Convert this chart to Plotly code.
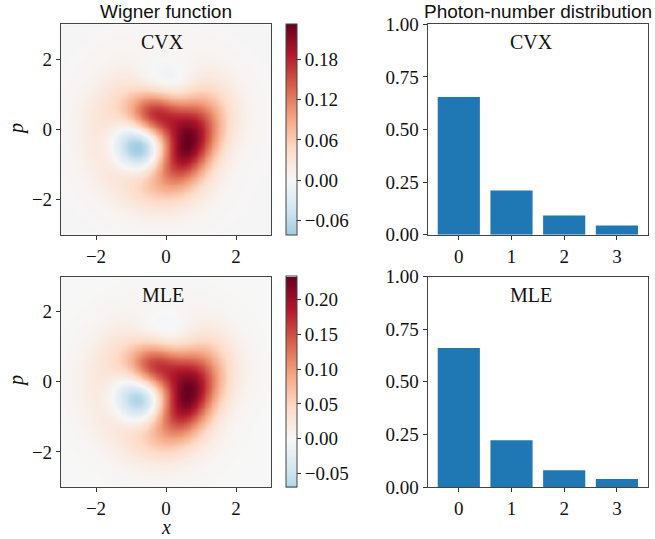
import math
import numpy as np
import plotly.graph_objects as go

# Photon-number populations |n> (n = 0..3) of the two reconstructions
photon_n = [0, 1, 2, 3]
probs_cvx = [0.655, 0.211, 0.092, 0.044]
probs_mle = [0.660, 0.222, 0.080, 0.038]
# Relative phases of the Fock amplitudes (degrees) and coherence factor
phases_cvx = [0, 0, 270, 90]
phases_mle = [0, 0, 270, 90]
coherence_cvx = 0.70
coherence_mle = 0.68

bar_ticks = [0, 0.25, 0.5, 0.75, 1.0]
bar_ticktext = ["0.00", "0.25", "0.50", "0.75", "1.00"]
cb_ticks_cvx = [-0.06, 0.0, 0.06, 0.12, 0.18]
cb_ticks_mle = [-0.05, 0.0, 0.05, 0.10, 0.15, 0.20]

# matplotlib RdBu_r anchor colours
RDBU_R = ["#053061", "#2166ac", "#4393c3", "#92c5de", "#d1e5f0", "#f7f7f7",
          "#fddbc7", "#f4a582", "#d6604d", "#b2182b", "#67001f"]

W_FIG, H_FIG = 655, 539
SERIF = "Liberation Serif"
SANS = "Liberation Sans"


def genlag(n, k, x):
    return sum((-1) ** i * math.comb(n + k, n - i) * x ** i / math.factorial(i) for i in range(n + 1))


def density_matrix(probs, phases, eta):
    amp = np.sqrt(np.asarray(probs) / np.sum(probs))
    c = amp * np.exp(1j * np.deg2rad(np.asarray(phases, float)))
    rho = np.outer(c, np.conj(c))
    return eta * rho + (1 - eta) * np.diag(np.diag(rho))


def wigner(rho, xv, pv):
    X, P = np.meshgrid(xv, pv)
    A = (X + 1j * P) / np.sqrt(2)
    B = 4 * np.abs(A) ** 2
    W = np.zeros_like(X)
    M = rho.shape[0]
    for m in range(M):
        W += np.real(rho[m, m] * (-1) ** m * genlag(m, 0, B))
        for n in range(m + 1, M):
            W += 2 * np.real(rho[m, n] * (-1) ** m * (2 * A) ** (n - m)
                             * np.sqrt(math.factorial(m) / math.factorial(n)) * genlag(m, n - m, B))
    return W * np.exp(-B / 2) / np.pi


def hex2rgb(h):
    return np.array([int(h[i:i + 2], 16) for i in (1, 3, 5)], float)


def rdbu_r(t):
    pos = np.linspace(0, 1, len(RDBU_R))
    cols = np.array([hex2rgb(h) for h in RDBU_R])
    return [np.interp(t, pos, cols[:, k]) for k in range(3)]


def truncated_scale(zmin, zmax, n=40):
    vm = max(abs(zmin), abs(zmax))
    scale = []
    for u in np.linspace(0, 1, n):
        v = zmin + u * (zmax - zmin)
        r, g, b = rdbu_r((v + vm) / (2 * vm))
        scale.append([float(u), f"rgb({r:.0f},{g:.0f},{b:.0f})"])
    return scale


def px_x(p):
    return p / W_FIG


def px_y(p):
    return 1 - p / H_FIG


def sfx(k):
    return "" if k == 1 else str(k)


def label(text, xp, yp, font, angle=0):
    fig.add_annotation(text=text, x=px_x(xp), y=px_y(yp), xref="paper", yref="paper",
                       xanchor="center", yanchor="middle", showarrow=False,
                       textangle=angle, font=font)


xv = np.linspace(-3, 3, 241)

fig = go.Figure()

rows = [
    dict(name="CVX", probs=probs_cvx, phases=phases_cvx, eta=coherence_cvx, top=24.3, bot=234.8, cbt=cb_ticks_cvx),
    dict(name="MLE", probs=probs_mle, phases=phases_mle, eta=coherence_mle, top=276.5, bot=487.0, cbt=cb_ticks_mle),
]

axis_line = dict(showline=True, linecolor="#444444", linewidth=1.2, mirror=True,
                 ticks="outside", ticklen=4, tickwidth=1, tickcolor="#333333", automargin=False,
                 showgrid=False, zeroline=False, tickfont=dict(family=SERIF, size=19, color="#111111"))

for i, r in enumerate(rows):
    k = 2 * i + 1
    kb = 2 * i + 2
    rho = density_matrix(r["probs"], r["phases"], r["eta"])
    W = wigner(rho, xv, xv)
    zmin, zmax = float(W.min()), float(W.max())
    ydom = [px_y(r["bot"]), px_y(r["top"])]
    cb_len = (r["bot"] - r["top"]) / H_FIG
    fig.add_trace(go.Heatmap(
        x=xv, y=xv, z=W, zmin=zmin, zmax=zmax, zsmooth="best",
        colorscale=truncated_scale(zmin, zmax),
        xaxis=f"x{sfx(k)}", yaxis=f"y{sfx(k)}",
        colorbar=dict(x=px_x(285.7), xanchor="left", y=px_y(r["top"]), yanchor="top",
                      len=cb_len, lenmode="fraction", thickness=11, xpad=0, ypad=0,
                      outlinewidth=1, outlinecolor="#444444",
                      tickvals=r["cbt"], ticktext=[f"{v:.2f}".replace("-", "\u2212") for v in r["cbt"]],
                      ticks="outside", ticklen=4, tickcolor="#333333",
                      tickfont=dict(family=SERIF, size=19, color="#111111")),
    ))
    fig.add_trace(go.Bar(x=photon_n, y=r["probs"], marker=dict(color="#1f77b4", line=dict(width=0)),
                         width=0.8, xaxis=f"x{sfx(kb)}", yaxis=f"y{sfx(kb)}", showlegend=False))

    fig.layout[f"xaxis{sfx(k)}"] = dict(domain=[px_x(61), px_x(271)], anchor=f"y{sfx(k)}", range=[-3, 3],
                                         tickvals=[-2, 0, 2], **axis_line)
    fig.layout[f"yaxis{sfx(k)}"] = dict(domain=ydom, anchor=f"x{sfx(k)}", range=[-3, 3],
                                         tickvals=[-2, 0, 2], **axis_line)
    fig.layout[f"xaxis{sfx(kb)}"] = dict(domain=[px_x(427.7), px_x(648)], anchor=f"y{sfx(kb)}", range=[-0.59, 3.59],
                                          tickvals=photon_n, **axis_line)
    fig.layout[f"yaxis{sfx(kb)}"] = dict(domain=ydom, anchor=f"x{sfx(kb)}", range=[0, 1],
                                          tickvals=bar_ticks, ticktext=bar_ticktext, **axis_line)

    for ax in (k, kb):
        fig.add_annotation(text=r["name"], xref=f"x{sfx(ax)} domain", yref=f"y{sfx(ax)} domain",
                           x=0.485 if ax == k else 0.47, y=1 - 18 / 210, showarrow=False,
                           xanchor="center", yanchor="middle",
                           font=dict(family=SERIF, size=20, color="#111111"))

serif_font = dict(family=SERIF, size=20, color="#111111")
sans_font = dict(family=SANS, size=19, color="#111111")

# axis labels
label("<i>p</i>", 16, 129, serif_font, -90)
label("<i>p</i>", 16, 381, serif_font, -90)
label("<i>x</i>", 166, 527, serif_font)

# column titles
label("Wigner function", 166, 12, sans_font)
label("Photon-number distribution", 538, 12, sans_font)

fig.update_layout(width=W_FIG, height=H_FIG, margin=dict(l=0, r=0, t=0, b=0, autoexpand=False),
                  paper_bgcolor="white", plot_bgcolor="white", showlegend=False, bargap=0.2)
fig.write_html("out.html")
